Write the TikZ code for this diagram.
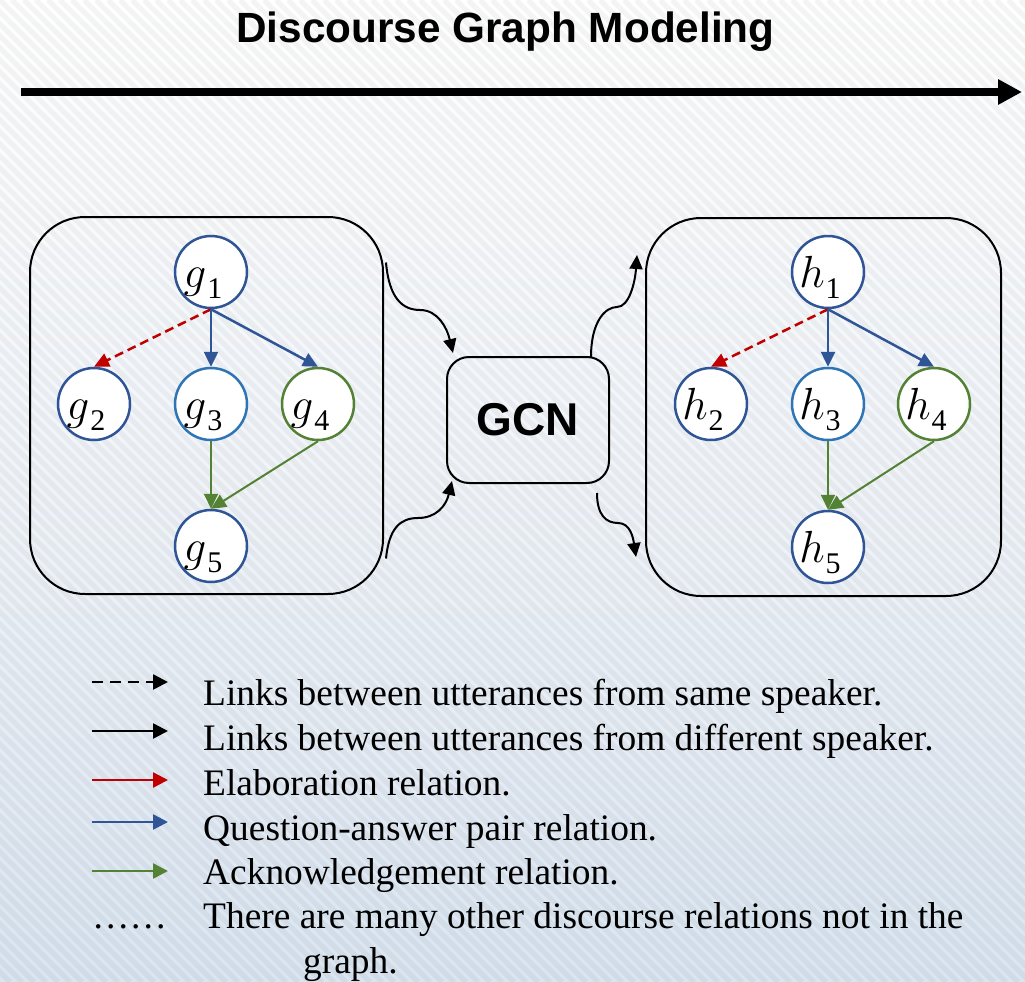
\RequirePackage{fix-cm}
\documentclass[tikz,border=0pt]{standalone}
\usepackage{fontspec}
\setmainfont{Liberation Serif}
\newfontfamily\headfont{Liberation Sans}
\usetikzlibrary{arrows.meta,calc}

\definecolor{qablue}{RGB}{47,85,151}
\definecolor{nodeblue}{RGB}{46,117,182}
\definecolor{ackgreen}{RGB}{84,130,53}
\definecolor{elabred}{RGB}{192,0,0}
\definecolor{bgblue}{RGB}{218,229,241}

% utterance label: italic letter with a large lowered index
\newcommand\uttlabel[2]{$#1$\kern1pt\raisebox{-11pt}{\fontsize{30}{30}\selectfont #2}}

\tikzset{
  utt/.style={circle, draw, line width=2.5pt, fill=white, minimum size=72pt, inner sep=0pt},
  ulabel/.style={anchor=base, inner sep=0pt, font=\fontsize{45}{50}\selectfont},
  panel/.style={draw, line width=2pt, rounded corners=55pt, minimum width=353pt, minimum height=377pt},
  tip/.style={-{Triangle[length=15pt,width=14pt]}},
  rel/.style={tip, line width=2.5pt},
  ack/.style={tip, line width=2pt, ackgreen},
  flow/.style={-{Triangle[length=14pt,width=13pt]}, line width=2pt},
  legtext/.style={anchor=base west, inner sep=0pt, font=\fontsize{37.4}{44}\selectfont},
}

\begin{document}
\begin{tikzpicture}[x=1pt, y=-1pt]
\useasboundingbox (0,0) rectangle (1025,982);

% background: vertical gradient with faint diagonal hatching
\shade[top color=white, bottom color=bgblue, middle color={rgb,255:red,240;green,244;blue,249}] (0,0) rectangle (1025,982);
\begin{scope}
  \clip (0,0) rectangle (1025,982);
  \foreach \s in {-996,-984,...,1032}
    \draw[black, opacity=0.045, line width=5pt] (\s,0) -- ({\s+982},982);
\end{scope}

% title and time line
\node[anchor=base, inner sep=0pt, font=\headfont\bfseries\fontsize{42.3}{50}\selectfont] (title) at (505.5,43) {Discourse Graph Modeling};
\coordinate (axs) at (21,92);
\coordinate (axe) at (1022,92);
\draw[line width=8pt, -{Triangle[length=24pt,width=24pt]}] (axs) -- (axe);

% input discourse graph
\node[panel] (lbox) at (206.5,405.5) {};
\node[utt, draw=qablue]   (g1) at (211,272) {};
\node[utt, draw=qablue]   (g2) at (94,404) {};
\node[utt, draw=nodeblue] (g3) at (211,404) {};
\node[utt, draw=ackgreen] (g4) at (318,404) {};
\node[utt, draw=qablue]   (g5) at (211,546) {};
\foreach \n/\i in {g1/1, g2/2, g3/3, g4/4, g5/5}
  \node[ulabel] (\n t) at ($(\n)+(-8,15)$) {\uttlabel{g}{\i}};

\draw[rel, elabred, dash pattern=on 9pt off 5pt] (g1.south) -- (g2.north);
\draw[rel, qablue] (g1.south) -- (g3.north);
\draw[rel, qablue] (g1.south) -- (g4.north);
\draw[ack] (g3.south) -- (g5.north);
\draw[ack] (g4.south) -- (g5.north);

% graph convolution
\node[draw, line width=2pt, rounded corners=22pt, minimum width=162pt, minimum height=126pt,
      font=\headfont\bfseries\fontsize{46}{54}\selectfont] (gcn) at (528,420) {GCN};

% output discourse graph
\node[panel, minimum width=355pt, minimum height=378pt] (rbox) at (823.5,407) {};
\node[utt, draw=qablue]   (h1) at (828,272) {};
\node[utt, draw=qablue]   (h2) at (711,404) {};
\node[utt, draw=nodeblue] (h3) at (828,404) {};
\node[utt, draw=ackgreen] (h4) at (934,404) {};
\node[utt, draw=qablue]   (h5) at (828,547) {};
\foreach \n/\i in {h1/1, h2/2, h3/3, h4/4, h5/5}
  \node[ulabel] (\n t) at ($(\n)+(-8,15)$) {\uttlabel{h}{\i}};

\draw[rel, elabred, dash pattern=on 9pt off 5pt] (h1.south) -- (h2.north);
\draw[rel, qablue] (h1.south) -- (h3.north);
\draw[rel, qablue] (h1.south) -- (h4.north);
\draw[ack] (h3.south) -- (h5.north);
\draw[ack] (h4.south) -- (h5.north);

% curved connectors between the panels and the GCN block
\coordinate (c1s) at ($(lbox.east)+(2,-143)$);
\coordinate (c1m) at (420,310);
\coordinate (c1e) at ($(gcn.north west)+(7,-3)$);
\draw[flow] (c1s) .. controls +(3,35) and +(-18,0) .. (c1m) .. controls +(18,0) and +(-6,-25) .. (c1e);

\coordinate (c2s) at ($(lbox.east)+(2,153)$);
\coordinate (c2m) at (418,518);
\coordinate (c2e) at ($(gcn.south west)+(6,-3)$);
\draw[flow] (c2s) .. controls +(3,-30) and +(-18,0) .. (c2m) .. controls +(18,0) and +(-6,25) .. (c2e);

\coordinate (c3s) at ($(gcn.north east)+(-19,1)$);
\coordinate (c3m) at (617,307);
\coordinate (c3e) at ($(rbox.west)+(-8,-152)$);
\draw[flow] (c3s) .. controls +(0,-35) and +(-12,0) .. (c3m) .. controls +(12,0) and +(-2,28) .. (c3e);

\coordinate (c4s) at ($(gcn.south east)+(-13,9)$);
\coordinate (c4m) at (618,523);
\coordinate (c4e) at ($(rbox.west)+(-9,150)$);
\draw[flow] (c4s) .. controls +(0,22) and +(-12,0) .. (c4m) .. controls +(12,0) and +(-3,-20) .. (c4e);

% legend
\tikzset{legtip/.style={-{Triangle[length=15pt,width=15pt]}, line width=2.6pt}}
\coordinate (k1s) at (92,682); \coordinate (k1e) at (168,682);
\coordinate (k2s) at (92,731); \coordinate (k2e) at (168,731);
\coordinate (k3s) at (92,780); \coordinate (k3e) at (168,780);
\coordinate (k4s) at (92,822); \coordinate (k4e) at (168,822);
\coordinate (k5s) at (92,871); \coordinate (k5e) at (168,871);
\draw[legtip, black, dash pattern=on 11pt off 7pt] (k1s) -- (k1e);
\draw[legtip, black] (k2s) -- (k2e);
\draw[legtip, elabred] (k3s) -- (k3e);
\draw[legtip, qablue] (k4s) -- (k4e);
\draw[legtip, ackgreen] (k5s) -- (k5e);

\node[legtext] (t1) at (203,705) {Links between utterances from same speaker.};
\node[legtext] (t2) at (203,750) {Links between utterances from different speaker.};
\node[legtext] (t3) at (203,795) {Elaboration relation.};
\node[legtext] (t4) at (203,840) {Question-answer pair relation.};
\node[legtext] (t5) at (203,884) {Acknowledgement relation.};
\node[legtext] (dots) at (92,928) {……};
\node[legtext] (t6) at (203,928) {There are many other discourse relations not in the};
\node[legtext] (t7) at (303,973) {graph.};
\end{tikzpicture}
\end{document}
